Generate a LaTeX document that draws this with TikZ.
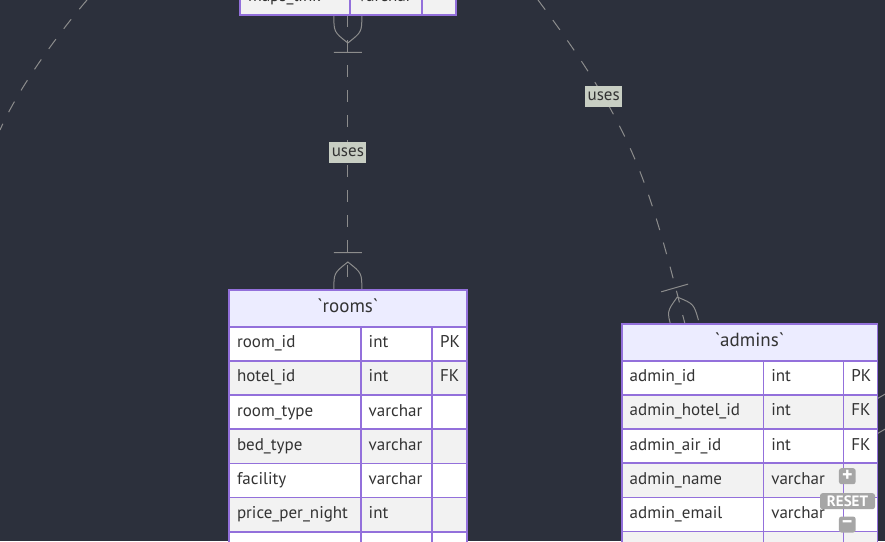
\documentclass[tikz,border=0pt]{standalone}
\usepackage{fontspec}
\setmainfont{PT Sans}
\pgfdeclarelayer{links}
\pgfsetlayers{links,main}
\definecolor{canvas}{HTML}{2C303C}
\definecolor{frame}{HTML}{9370DB}
\definecolor{lavender}{HTML}{ECECFF}
\definecolor{rowgrey}{HTML}{F2F2F2}
\definecolor{ink}{HTML}{333333}
\definecolor{wire}{HTML}{8C8C8C}
\definecolor{tagfill}{HTML}{C8CEC3}
\definecolor{btnfill}{HTML}{A6A6A6}
\begin{document}
\begin{tikzpicture}[x=1pt,y=-1pt,
  cell/.style={rectangle,draw=frame,line width=1.6pt,anchor=north west,outer sep=0pt,inner xsep=8pt,inner ysep=0pt,minimum height=\rowh pt,text height=12pt,text depth=4pt,align=left,text=ink,font=\fontsize{17}{20}\selectfont},
  head/.style={cell,fill=lavender,align=center,minimum height=36.7pt,text height=13.5pt,text depth=4.5pt,font=\fontsize{19}{22}\selectfont},
  link/.style={draw=wire,line width=1pt,dash pattern=on 12pt off 13pt},
  tag/.style={fill=tagfill,text=ink,inner xsep=2.5pt,inner ysep=0pt,minimum height=21pt,text height=12pt,text depth=4pt,font=\fontsize{17}{20}\selectfont},
  btn/.style={fill=btnfill,text=white,rounded corners=2.5pt,inner sep=0pt,minimum height=16pt,font=\bfseries\fontsize{15}{16}\selectfont},
  manyend/.pic={\draw[wire,line width=1pt] (-14,0) .. controls (-14,-17) .. (0,-28) .. controls (14,-17) .. (14,0) (-14,-37.5) -- (14,-37.5);}]
  \pgfmathsetmacro{\rowh}{34.17}
  \useasboundingbox (0,0) rectangle (885,541);

  \node[cell,fill=rowgrey,text width=94pt] (upper-a) at (240,-19.2) {maps\_link};
  \node[cell,fill=rowgrey,text width=55.7pt] (upper-b) at (350,-19.2) {varchar};
  \node[cell,fill=rowgrey,text width=18.3pt] (upper-c) at (421.7,-19.2) {};

  \node[head,text width=221.7pt] (rooms) at (229,290) {\textasciigrave rooms\textasciigrave};
  \foreach \f/\t/\k [count=\i from 0] in {room\_id/int/PK,hotel\_id/int/FK,room\_type/varchar/{},bed\_type/varchar/{},facility/varchar/{},price\_per\_night/int/{},{}/{}/{}} {
    \pgfmathsetmacro{\y}{326.7+\i*\rowh}
    \ifodd\i\relax\def\shade{rowgrey}\else\def\shade{white}\fi
    \node[cell,fill=\shade,text width=115.7pt] (rooms-\i-a) at (229,\y) {\f};
    \node[cell,fill=\shade,text width=55.3pt] (rooms-\i-b) at (360.7,\y) {\t};
    \node[cell,fill=\shade,text width=18.7pt] (rooms-\i-c) at (432,\y) {\k};
  }

  \node[head,text width=239.6pt] (admins) at (621.7,324) {\textasciigrave admins\textasciigrave};
  \foreach \f/\t/\k [count=\i from 0] in {admin\_id/int/PK,admin\_hotel\_id/int/FK,admin\_air\_id/int/FK,admin\_name/varchar/{},admin\_email/varchar/{},{}/{}/{}} {
    \pgfmathsetmacro{\y}{360.7+\i*\rowh}
    \ifodd\i\relax\def\shade{rowgrey}\else\def\shade{white}\fi
    \node[cell,fill=\shade,text width=125.6pt] (admins-\i-a) at (621.7,\y) {\f};
    \node[cell,fill=\shade,text width=64pt] (admins-\i-b) at (763.3,\y) {\t};
    \node[cell,fill=\shade,text width=18pt] (admins-\i-c) at (843.3,\y) {\k};
  }

  \coordinate (adm-src) at (538,0);
  \coordinate (adm-in) at ([xshift=63.3pt]admins.north west);
  \coordinate (far-a) at (87,0);
  \coordinate (far-b) at (0,130);
  \coordinate (adm-e1) at (877.5,398.5);
  \coordinate (far-c) at (887,393);
  \coordinate (adm-e2) at (877.5,433.5);
  \coordinate (far-d) at (887,428);

  \begin{pgfonlayer}{links}
    \fill[canvas] (0,0) rectangle (885,541);
    \draw[link] (rooms.north |- upper-a.south) -- node[tag] {uses} (rooms.north);
    \draw[link] (adm-src) .. controls (634.6,128.8) and (648.4,182) .. node[tag,pos=0.29] {uses} (adm-in);
    \draw[link] (far-a) .. controls (57.8,34.2) and (18,88.6) .. (far-b);
    \draw[link] (adm-e1) -- (far-c);
    \draw[link] (adm-e2) -- (far-d);
    \pic at (rooms.north) {manyend};
    \pic[rotate=180] at (rooms.north |- upper-a.south) {manyend};
    \pic[rotate=16] at (adm-in) {manyend};
  \end{pgfonlayer}

  \node[btn,minimum width=16.7pt,font=\bfseries\fontsize{20}{20}\selectfont] (zoom-in) at (847.3,476.2) {+};
  \node[btn,minimum width=55pt] (reset) at (847.5,501.2) {RESET};
  \node[btn,minimum width=16.7pt,font=\bfseries\fontsize{20}{20}\selectfont] (zoom-out) at (847.3,524.5) {\textendash};
\end{tikzpicture}
\end{document}
